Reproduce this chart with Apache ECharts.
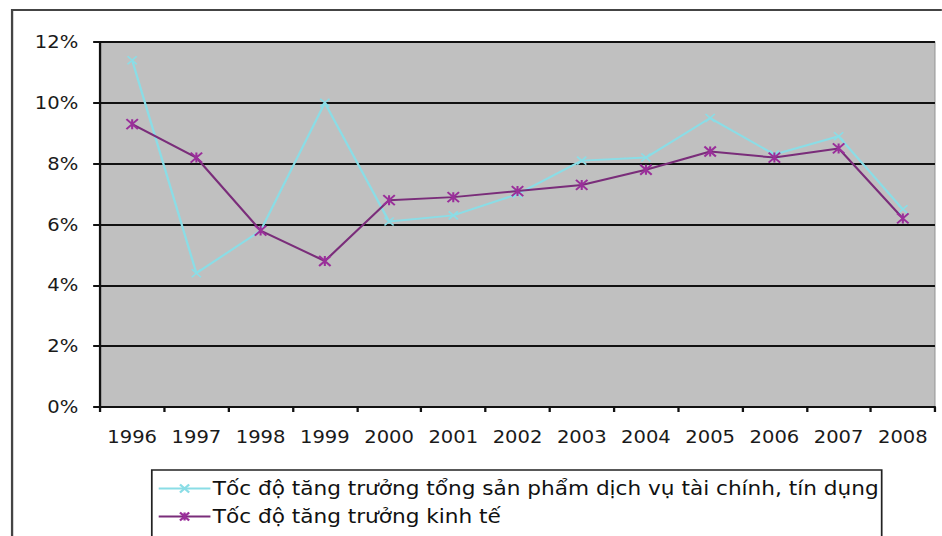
<!DOCTYPE html>
<html>
<head>
<meta charset="utf-8">
<script src="https://cdn.jsdelivr.net/npm/echarts@6/dist/echarts.min.js"></script>
<style>
  html, body { margin: 0; padding: 0; background: #ffffff; overflow: hidden; }
  /* the chart is laid out on a narrower canvas and widened to the page width,
     which gives the broad, stretched lettering of the original spreadsheet chart */
  #chart { width: 819px; height: 536px; transform: scaleX(1.15); transform-origin: 0 0; }
</style>
</head>
<body>
<div id="chart"></div>
<script>
// Years on the category axis
const years = ['1996', '1997', '1998', '1999', '2000', '2001', '2002', '2003', '2004', '2005', '2006', '2007', '2008'];

// Growth of financial & credit services output (%)
const financeGrowth = [11.4, 4.4, 5.8, 10.0, 6.1, 6.3, 7.0, 8.1, 8.2, 9.5, 8.3, 8.9, 6.5];

// Economic growth (%)
const economicGrowth = [9.3, 8.2, 5.8, 4.8, 6.8, 6.9, 7.1, 7.3, 7.8, 8.4, 8.2, 8.5, 6.2];

// Y axis ticks (%)
const yTicks = [0, 2, 4, 6, 8, 10, 12];

const seriesNames = [
  'Tốc độ tăng trưởng tổng sản phẩm dịch vụ tài chính, tín dụng',
  'Tốc độ tăng trưởng kinh tế'
];

// Marker shapes: a plain cross and an asterisk (cross with a vertical bar)
const crossPath = 'path://M0,0L10,10M10,0L0,10';
const starPath = 'path://M0,0L10,10M10,0L0,10M5,0L5,10';

const FONT = 'DejaVu Sans';
const chart = echarts.init(document.getElementById('chart'), null, { renderer: 'svg' });

chart.setOption({
  backgroundColor: '#ffffff',
  animation: false,
  textStyle: { fontFamily: FONT },
  graphic: [
    {
      // outer chart frame
      type: 'rect',
      shape: { x: 10.5, y: 10, width: 1000, height: 600 },
      style: { fill: 'none', stroke: '#444444', lineWidth: 2 },
      silent: true,
      z: -1
    }
  ],
  grid: {
    left: 87, right: 6, top: 42, bottom: 129,
    show: true,
    backgroundColor: '#c0c0c0',
    borderColor: '#9a9a9a',
    borderWidth: 1
  },
  legend: {
    orient: 'vertical',
    left: 132,
    top: 470,
    height: 120,
    padding: [9, 3, 14, 5],
    itemGap: 9,
    itemWidth: 45,
    itemHeight: 10,
    borderColor: '#222222',
    borderWidth: 1.5,
    backgroundColor: '#ffffff',
    textStyle: { fontFamily: FONT, fontSize: 18.8, color: '#111111', padding: [0, 0, 0, -3] },
    data: seriesNames
  },
  xAxis: {
    type: 'category',
    data: years,
    boundaryGap: true,
    axisLine: { show: true, lineStyle: { color: '#111111', width: 2 } },
    axisTick: { show: true, alignWithLabel: false, interval: 0, length: 5, lineStyle: { color: '#111111', width: 2 } },
    axisLabel: { interval: 0, fontFamily: FONT, fontSize: 17, color: '#1a1a1a', margin: 21, hideOverlap: false },
    splitLine: { show: false }
  },
  yAxis: {
    type: 'value',
    min: yTicks[0],
    max: yTicks[yTicks.length - 1],
    interval: 2,
    axisLine: { show: true, lineStyle: { color: '#111111', width: 2 } },
    axisTick: { show: true, length: 6, lineStyle: { color: '#111111', width: 2 } },
    axisLabel: {
      fontFamily: FONT, fontSize: 17, color: '#1a1a1a', margin: 19,
      formatter: v => v + '%'
    },
    splitLine: { show: true, lineStyle: { color: '#111111', width: 2 } }
  },
  series: [
    {
      name: seriesNames[0],
      type: 'line',
      data: financeGrowth,
      symbol: crossPath,
      symbolSize: 8,
      showAllSymbol: true,
      lineStyle: { color: '#8adde6', width: 2 },
      itemStyle: { color: '#8adde6', borderColor: '#8adde6', borderWidth: 1.5 },
      z: 2
    },
    {
      name: seriesNames[1],
      type: 'line',
      data: economicGrowth,
      symbol: starPath,
      symbolSize: 10,
      showAllSymbol: true,
      lineStyle: { color: '#7a2d7a', width: 2 },
      itemStyle: { color: '#9a2f9a', borderColor: '#9a2f9a', borderWidth: 1.8 },
      z: 3
    }
  ]
});
</script>
</body>
</html>
